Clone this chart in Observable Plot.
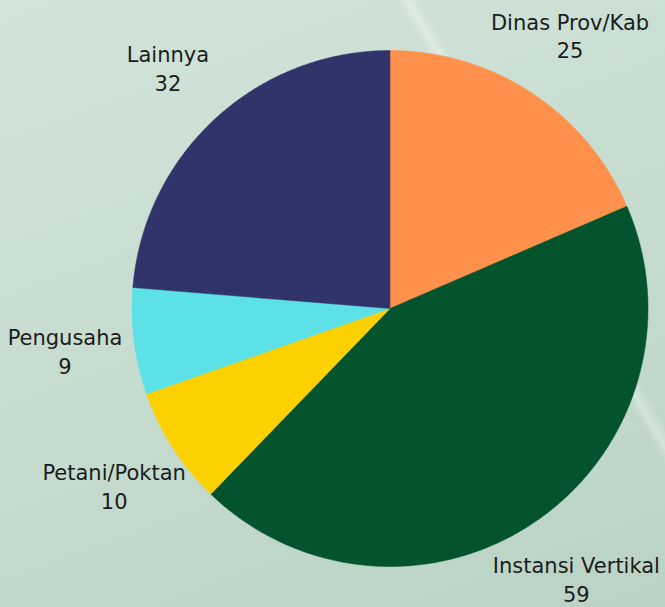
<!DOCTYPE html>
<html>
<head>
<meta charset="utf-8">
<script src="https://cdn.jsdelivr.net/npm/d3@7"></script>
<script src="https://cdn.jsdelivr.net/npm/@observablehq/plot@0.6"></script>
<style>
  html, body { margin: 0; padding: 0; }
  body {
    width: 665px; height: 607px; overflow: hidden;
    background:
      linear-gradient(60deg, rgba(255,255,255,0) 73.6%, rgba(255,255,255,0.35) 74.6%, rgba(255,255,255,0) 75.8%),
      linear-gradient(160deg, #d2e4da 0%, #c6dccf 50%, #bad3c5 100%);
  }
  #chart { position: absolute; left: 0; top: 0; }
</style>
</head>
<body>
<div id="chart"></div>
<script>
const categories = ["Dinas Prov/Kab", "Instansi Vertikal", "Petani/Poktan", "Pengusaha", "Lainnya"];
const values = [25, 59, 10, 9, 32];
const colors = ["#FF914D", "#03532D", "#FDD000", "#5CE1E6", "#31346B"];

const data = categories.map((name, i) => ({name, value: values[i]}));
const arcs = d3.pie().sort(null).value(d => d.value)(data);

// Build slice polygons in unit-circle coordinates
const slicePts = [];
arcs.forEach(a => {
  const name = a.data.name;
  slicePts.push({name, x: 0, y: 0});
  const n = Math.max(2, Math.ceil((a.endAngle - a.startAngle) / (Math.PI / 360)));
  for (let k = 0; k <= n; k++) {
    const t = a.startAngle + (a.endAngle - a.startAngle) * k / n;
    slicePts.push({name, x: Math.sin(t), y: Math.cos(t)});
  }
  slicePts.push({name, x: 0, y: 0});
});

const labelR = 1.27;
const labels = arcs.map(a => {
  const m = (a.startAngle + a.endAngle) / 2;
  return {name: a.data.name, value: a.data.value, x: labelR * Math.sin(m), y: labelR * Math.cos(m)};
});

const cx = 389.5, cy = 308, r = 258;
const chart = Plot.plot({
  width: 665,
  height: 607,
  margin: 0,
  style: {background: "transparent", overflow: "visible"},
  x: {domain: [-1, 1], range: [cx - r, cx + r], axis: null},
  y: {domain: [-1, 1], range: [cy + r, cy - r], axis: null},
  color: {domain: categories, range: colors},
  marks: [
    Plot.line(slicePts, {x: "x", y: "y", z: "name", fill: "name", stroke: "name", strokeWidth: 0.5, curve: "linear-closed"}),
    Plot.text(labels, {
      x: "x", y: "y",
      text: d => `${d.name}\n${d.value}`,
      fontSize: 21,
      lineHeight: 1.38,
      fill: "#1c1c1c",
      textAnchor: "middle",
      lineAnchor: "middle",
      fontFamily: "'DejaVu Sans', sans-serif"
    })
  ]
});
document.getElementById("chart").appendChild(chart);
</script>
</body>
</html>
